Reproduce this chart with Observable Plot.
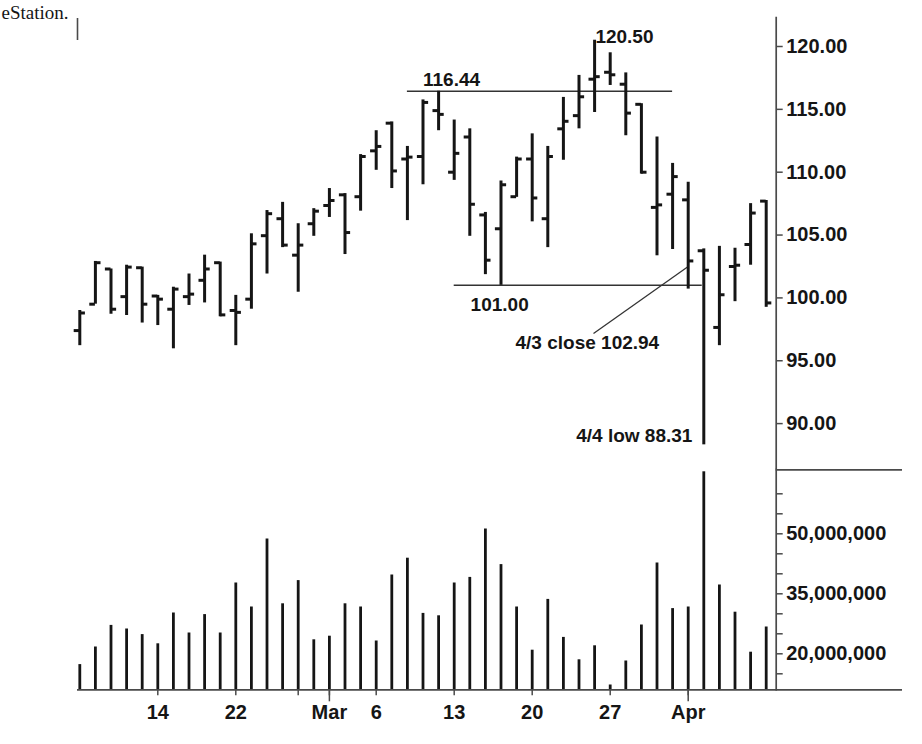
<!DOCTYPE html>
<html>
<head>
<meta charset="utf-8">
<script src="https://cdn.jsdelivr.net/npm/d3@7"></script>
<script src="https://cdn.jsdelivr.net/npm/@observablehq/plot@0.6"></script>
<style>
  html, body { margin: 0; padding: 0; background: #fff; }
  #chart svg { display: block; }
</style>
</head>
<body>
<div id="chart"></div>
<script>
// ---- Data (QQQ daily bars, Feb 7 – Apr 10, 2000) ----
const dates = ["2/7","2/8","2/9","2/10","2/11","2/14","2/15","2/16","2/17","2/18",
  "2/22","2/23","2/24","2/25","2/28","2/29","3/1","3/2","3/3","3/6","3/7","3/8","3/9","3/10",
  "3/13","3/14","3/15","3/16","3/17","3/20","3/21","3/22","3/23","3/24","3/27","3/28","3/29","3/30","3/31",
  "4/3","4/4","4/5","4/6","4/7","4/10"];
const open  = [97.4,99.5,102.3,100.1,102.4,100.15,99.1,100.1,101.4,102.8,
  99.0,99.9,104.95,106.3,103.4,105.9,107.35,108.2,108.05,111.7,113.9,111.05,111.25,114.9,
  110.0,112.8,106.6,105.5,108.05,111.05,106.3,113.45,114.5,117.4,117.95,117.0,115.4,107.2,108.25,
  107.8,103.75,97.65,102.5,104.25,107.7];
const high  = [99.0,102.9,102.3,102.6,102.45,100.2,100.85,101.9,103.4,102.85,
  100.2,105.1,106.95,107.6,105.9,107.1,108.7,108.3,111.4,113.3,114.0,112.05,115.75,116.44,
  114.15,113.45,106.8,109.3,111.2,113.05,112.05,115.95,117.7,120.5,119.5,117.9,115.45,112.8,110.7,
  109.2,103.9,104.1,103.95,107.5,107.75];
const low   = [96.2,99.5,98.7,98.6,98.0,97.8,95.95,99.4,99.6,98.5,
  96.2,99.1,101.9,104.0,100.45,104.9,106.4,103.45,106.9,110.15,108.7,106.15,109.0,113.3,
  109.35,104.9,101.85,101.0,108.0,106.05,104.0,110.95,113.45,114.75,116.9,112.9,109.85,103.35,103.85,
  100.7,88.31,96.2,99.7,102.6,99.25];
const close = [98.8,102.8,99.1,102.45,99.5,99.9,100.7,100.3,102.3,98.65,
  98.85,104.3,106.7,104.2,104.2,106.9,107.75,105.2,111.25,112.05,110.1,111.2,115.55,114.6,
  111.5,107.45,103.0,109.0,111.05,107.95,111.25,114.05,116.0,117.6,117.75,114.7,110.0,107.4,109.65,
  102.94,102.2,100.25,102.6,106.75,99.6];
const volume = [17.3,21.7,27.1,26.2,24.8,22.5,30.2,25.2,29.8,25.2,
  37.7,31.7,48.7,32.5,38.3,23.5,24.4,32.5,31.7,23.2,39.7,43.9,30.1,29.5,
  37.7,39.1,51.2,42.3,31.7,20.9,33.6,24.1,18.5,22.0,12.2,18.2,27.2,42.7,31.3,
  31.7,65.5,37.2,30.4,20.4,26.7].map(v => v * 1e6);

const priceTicks = [90, 95, 100, 105, 110, 115, 120];
const volumeTicks = [15,20,25,30,35,40,45,50,55,60].map(v => v * 1e6);
const volumeLabels = [20e6, 35e6, 50e6];
const dateTickIndex = [5, 10, 14, 16, 19, 24, 29, 34, 39];
const dateTickText  = ["14", "22", "", "Mar", "6", "13", "20", "27", "Apr"];
const monthTickIndex = [16, 39];

// annotations
const levelLines = [
  {price: 116.44, from: 21, to: 38},
  {price: 101.00, from: 24, to: 39.9}
];
const notesLeft = [
  {text: "116.44", i: 22.0, price: 116.82},
  {text: "120.50", i: 33.05, price: 120.24},
  {text: "101.00", i: 25.05, price: 98.92},
  {text: "4/3 close 102.94", i: 27.93, price: 95.9}
];
const notesRight = [
  {text: "4/4 low 88.31", i: 39.27, price: 88.5}
];
const leader = [{i1: 39, p1: 102.5, i2: 32.93, p2: 97.17}];
const caption = ["eStation."];

// ---- Layout ----
const W = 922;
const X0 = 79.3, STEP = 15.6;          // pixel of first bar, bar spacing
const AXIS_X = 775.7;                   // right axis line
const RIGHT_END = 902;                  // right end of panel rules
const ix = px => (px - X0) / STEP;      // pixel -> bar index
const PRICE_H = 469;
const VOL_H = 275;
const VOL_BASE = 11e6, VOL_TOP = 66e6;

const bars = dates.map((d, i) => ({i, date: d, open: open[i], high: high[i], low: low[i], close: close[i], volume: volume[i]}));

const font = "'Liberation Sans', Arial, Helvetica, sans-serif";
const ink = "#151515";
const axisInk = "#4a4a4a";
const xScale = {type: "linear", domain: [0, 44], range: [X0, X0 + 44 * STEP]};
const TK = 0.36;

const pricePlot = Plot.plot({
  width: W, height: PRICE_H,
  marginTop: 17, marginBottom: 0, marginLeft: 0, marginRight: W - AXIS_X,
  x: {...xScale, axis: null},
  y: {domain: [90, 120], range: [46 + 30 * 12.57, 46], axis: null},
  style: {fontFamily: font, fontSize: "20px", fontWeight: "bold", color: ink, background: "#fff", overflow: "hidden"},
  marks: [
    Plot.text(caption, {frameAnchor: "top-left", dx: 1, dy: 1, lineAnchor: "bottom", textAnchor: "start",
      fontFamily: "'Liberation Serif', 'Times New Roman', serif", fontWeight: "normal", fontSize: 19, fill: ink}),
    Plot.ruleX([ix(77)], {y1: 120 - (18 - 46) / 12.57, y2: 120 - (40 - 46) / 12.57, stroke: axisInk, strokeWidth: 1.6}),
    Plot.frame({anchor: "right", stroke: axisInk, strokeWidth: 1.7}),
    Plot.axisY({anchor: "right", label: null, ticks: priceTicks, tickFormat: d3.format(".2f"), tickSize: 6, tickPadding: 4,
      stroke: axisInk, strokeWidth: 1.5, fill: ink, fontSize: 20, fontWeight: "bold"}),
    // level lines
    Plot.ruleY(levelLines, {y: "price", x1: "from", x2: "to", stroke: "#333", strokeWidth: 1.5}),
    Plot.link(leader, {x1: "i1", y1: "p1", x2: "i2", y2: "p2", stroke: "#333", strokeWidth: 1.3}),
    // OHLC bars
    Plot.ruleX(bars, {x: "i", y1: "low", y2: "high", stroke: ink, strokeWidth: 3}),
    Plot.ruleY(bars, {y: "open", x1: d => d.i - TK, x2: d => d.i, stroke: ink, strokeWidth: 3}),
    Plot.ruleY(bars, {y: "close", x1: d => d.i, x2: d => d.i + TK, stroke: ink, strokeWidth: 3}),
    // notes
    Plot.text(notesLeft, {x: "i", y: "price", text: "text", textAnchor: "start", lineAnchor: "bottom",
      fontSize: 19, fontWeight: "bold", fill: ink}),
    Plot.text(notesRight, {x: "i", y: "price", text: "text", textAnchor: "end", lineAnchor: "bottom",
      fontSize: 19, fontWeight: "bold", fill: ink})
  ]
});

const volPlot = Plot.plot({
  width: W, height: VOL_H,
  marginTop: 0, marginBottom: VOL_H - 220.3, marginLeft: 0, marginRight: W - AXIS_X,
  x: {...xScale, axis: null},
  y: {domain: [VOL_BASE, VOL_TOP], range: [220.3, 0.3], axis: null},
  style: {fontFamily: font, fontSize: "20px", fontWeight: "bold", color: ink, background: "#fff", overflow: "visible"},
  marks: [
    Plot.ruleX(bars, {x: "i", y1: VOL_BASE, y2: "volume", stroke: ink, strokeWidth: 2.8}),
    Plot.frame({anchor: "right", stroke: axisInk, strokeWidth: 1.7}),
    Plot.ruleY([VOL_TOP], {x1: ix(AXIS_X), x2: ix(RIGHT_END), stroke: axisInk, strokeWidth: 1.7}),
    Plot.ruleY([VOL_BASE], {x1: ix(77), x2: ix(RIGHT_END), stroke: axisInk, strokeWidth: 1.8}),
    Plot.axisY({anchor: "right", label: null, ticks: volumeTicks, tickFormat: d => volumeLabels.includes(d) ? d3.format(",")(d) : "",
      tickSize: 6, tickPadding: 4, stroke: axisInk, strokeWidth: 1.5, fill: ink, fontSize: 20, fontWeight: "bold"}),
    Plot.axisX({label: null, ticks: dateTickIndex, tickFormat: d => dateTickText[dateTickIndex.indexOf(d)], tickSize: 6, tickPadding: 9,
      stroke: axisInk, strokeWidth: 1.5, fill: ink, fontSize: 20, fontWeight: "bold"}),
    Plot.ruleX(monthTickIndex, {y1: VOL_BASE, y2: VOL_BASE - 3e6, stroke: axisInk, strokeWidth: 1.5})
  ]
});

const chart = document.getElementById("chart");
chart.appendChild(pricePlot);
chart.appendChild(volPlot);
</script>
</body>
</html>
